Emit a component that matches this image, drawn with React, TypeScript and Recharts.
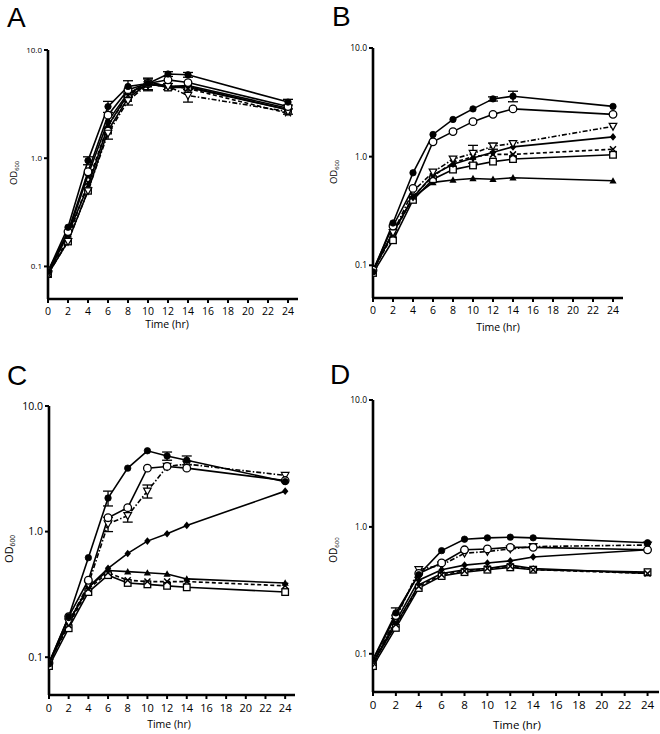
import React from 'react';
import { LineChart, Line, XAxis, YAxis, ErrorBar } from 'recharts';

// ---------- shared axes ----------
const hours = [0, 2, 4, 6, 8, 10, 12, 14, 24];
const xTicks = [0, 2, 4, 6, 8, 10, 12, 14, 16, 18, 20, 22, 24];
const yTicks = [0.1, 1, 10];
const yTickLabels = ['0.1', '1.0', '10.0'];
const panelLetters = ['A', 'B', 'C', 'D'];
const xAxisTitle = 'Time (hr)';

// ---------- Panel A ----------
const aFilledCircle = [0.09, 0.23, 0.95, 3.0, 4.6, 4.9, 6.0, 5.9, 3.3];
const aOpenCircle = [0.09, 0.21, 0.75, 2.5, 4.3, 4.9, 5.3, 5.0, 3.0];
const aFilledDiamond = [0.085, 0.2, 0.7, 2.2, 4.0, 4.8, 4.6, 4.6, 2.8];
const aOpenTriangle = [0.085, 0.17, 0.5, 1.7, 3.4, 4.8, 4.6, 3.8, 2.7];
const aCross = [0.085, 0.18, 0.6, 2.0, 3.8, 4.9, 4.7, 4.4, 2.6];
const aOpenSquare = [0.085, 0.17, 0.5, 1.8, 3.6, 4.9, 4.5, 4.5, 2.8];
const aFilledTriangle = [0.09, 0.2, 0.55, 2.0, 3.9, 5.1, 4.6, 4.7, 2.9];
const aFilledCircleErr = [0, 0, 0.08, 0.35, 0.6, 0.6, 0.3, 0.3, 0.2];
const aOpenTriangleErr = [0, 0, 0, 0.2, 0.3, 0.6, 0.3, 0.5, 0.15];

// ---------- Panel B ----------
const bFilledCircle = [0.087, 0.245, 0.71, 1.6, 2.2, 2.75, 3.4, 3.6, 2.9];
const bOpenCircle = [0.09, 0.23, 0.51, 1.37, 1.7, 2.1, 2.45, 2.75, 2.45];
const bFilledDiamond = [0.09, 0.2, 0.42, 0.68, 0.85, 0.97, 1.1, 1.23, 1.52];
const bOpenTriangle = [0.09, 0.2, 0.48, 0.72, 0.95, 1.07, 1.25, 1.32, 1.9];
const bCross = [0.09, 0.19, 0.43, 0.66, 0.88, 1.0, 1.05, 1.05, 1.17];
const bOpenSquare = [0.085, 0.17, 0.4, 0.62, 0.76, 0.83, 0.9, 0.95, 1.04];
const bFilledTriangle = [0.09, 0.2, 0.42, 0.58, 0.61, 0.63, 0.62, 0.64, 0.6];
const bFilledCircleErr = [0, 0, 0, 0, 0, 0, 0.15, 0.4, 0];
const bOpenTriangleErr = [0, 0, 0, 0, 0, 0.2, 0.08, 0, 0];

// ---------- Panel C ----------
const cFilledCircle = [0.09, 0.21, 0.62, 1.85, 3.2, 4.4, 4.0, 3.7, 2.5];
const cOpenCircle = [0.09, 0.21, 0.41, 1.29, 1.55, 3.2, 3.3, 3.2, 2.55];
const cFilledDiamond = [0.09, 0.19, 0.36, 0.51, 0.67, 0.84, 0.96, 1.12, 2.1];
const cOpenTriangle = [0.09, 0.19, 0.38, 1.15, 1.34, 2.1, 3.3, 3.45, 2.8];
const cCross = [0.09, 0.18, 0.35, 0.47, 0.41, 0.4, 0.4, 0.4, 0.37];
const cOpenSquare = [0.085, 0.17, 0.33, 0.45, 0.39, 0.38, 0.37, 0.36, 0.33];
const cFilledTriangle = [0.09, 0.19, 0.36, 0.49, 0.48, 0.47, 0.46, 0.42, 0.39];
const cFilledCircleErr = [0, 0, 0, 0.25, 0, 0, 0.3, 0.3, 0];
const cOpenTriangleErr = [0, 0, 0, 0.15, 0.15, 0.25, 0, 0, 0];

// ---------- Panel D ----------
const dFilledCircle = [0.09, 0.21, 0.42, 0.65, 0.8, 0.82, 0.83, 0.82, 0.75];
const dOpenCircle = [0.09, 0.2, 0.43, 0.52, 0.66, 0.67, 0.69, 0.69, 0.66];
const dFilledDiamond = [0.085, 0.18, 0.38, 0.46, 0.5, 0.52, 0.54, 0.58, 0.66];
const dOpenTriangle = [0.085, 0.19, 0.46, 0.5, 0.62, 0.64, 0.67, 0.7, 0.72];
const dCross = [0.085, 0.17, 0.34, 0.42, 0.45, 0.47, 0.49, 0.46, 0.43];
const dOpenSquare = [0.08, 0.16, 0.33, 0.41, 0.44, 0.46, 0.48, 0.46, 0.44];
const dFilledTriangle = [0.085, 0.17, 0.35, 0.43, 0.46, 0.47, 0.5, 0.47, 0.43];
const dFilledCircleErr = [0, 0.02, 0, 0, 0, 0, 0, 0, 0];
const dOpenTriangleErr = [0, 0, 0, 0, 0, 0, 0, 0, 0];

// ---------- series definitions ----------
type Shape =
  | 'filledCircle'
  | 'openCircle'
  | 'filledDiamond'
  | 'openTriangle'
  | 'cross'
  | 'openSquare'
  | 'filledTriangle';

const seriesDefs: { key: Shape; dash?: string }[] = [
  { key: 'filledTriangle' },
  { key: 'openSquare' },
  { key: 'cross', dash: '4 2.5' },
  { key: 'filledDiamond' },
  { key: 'openTriangle', dash: '5 2 1.5 2' },
  { key: 'openCircle' },
  { key: 'filledCircle' },
];

function makeMarker(shape: Shape) {
  return (props: any) => {
    const { cx, cy, index } = props;
    const k = `${shape}-${index}`;
    if (cx == null || cy == null || isNaN(cx) || isNaN(cy)) return <g key={k} />;
    switch (shape) {
      case 'filledCircle':
        return <circle key={k} cx={cx} cy={cy} r={3.2} fill="#000" stroke="#000" strokeWidth={0.8} />;
      case 'openCircle':
        return <circle key={k} cx={cx} cy={cy} r={3.8} fill="#fff" stroke="#000" strokeWidth={1.3} />;
      case 'filledDiamond':
        return (
          <polygon
            key={k}
            points={`${cx},${cy - 3.8} ${cx + 3.2},${cy} ${cx},${cy + 3.8} ${cx - 3.2},${cy}`}
            fill="#000"
          />
        );
      case 'openTriangle':
        return (
          <polygon
            key={k}
            points={`${cx - 3.8},${cy - 3} ${cx + 3.8},${cy - 3} ${cx},${cy + 3.8}`}
            fill="#fff"
            stroke="#000"
            strokeWidth={1.2}
          />
        );
      case 'cross':
        return (
          <g key={k} stroke="#000" strokeWidth={1.5}>
            <line x1={cx - 3} y1={cy - 3} x2={cx + 3} y2={cy + 3} />
            <line x1={cx - 3} y1={cy + 3} x2={cx + 3} y2={cy - 3} />
          </g>
        );
      case 'openSquare':
        return (
          <rect key={k} x={cx - 3.3} y={cy - 3.3} width={6.6} height={6.6} fill="#fff" stroke="#000" strokeWidth={1.3} />
        );
      case 'filledTriangle':
      default:
        return (
          <polygon
            key={k}
            points={`${cx},${cy - 3.6} ${cx + 3.6},${cy + 2.8} ${cx - 3.6},${cy + 2.8}`}
            fill="#000"
          />
        );
    }
  };
}

type PanelData = Record<Shape, number[]> & { errCircle: number[]; errTriangle: number[] };

const panels: {
  data: PanelData;
  plotX: number;
  plotY: number;
  plotW: number;
  plotH: number;
  yFont: number;
  xFont: number;
}[] = [
  {
    data: {
      filledCircle: aFilledCircle,
      openCircle: aOpenCircle,
      filledDiamond: aFilledDiamond,
      openTriangle: aOpenTriangle,
      cross: aCross,
      openSquare: aOpenSquare,
      filledTriangle: aFilledTriangle,
      errCircle: aFilledCircleErr,
      errTriangle: aOpenTriangleErr,
    },
    plotX: 48, plotY: 50, plotW: 250, plotH: 249, yFont: 8, xFont: 10.5,
  },
  {
    data: {
      filledCircle: bFilledCircle,
      openCircle: bOpenCircle,
      filledDiamond: bFilledDiamond,
      openTriangle: bOpenTriangle,
      cross: bCross,
      openSquare: bOpenSquare,
      filledTriangle: bFilledTriangle,
      errCircle: bFilledCircleErr,
      errTriangle: bOpenTriangleErr,
    },
    plotX: 373, plotY: 48, plotW: 250, plotH: 250, yFont: 8.5, xFont: 10.5,
  },
  {
    data: {
      filledCircle: cFilledCircle,
      openCircle: cOpenCircle,
      filledDiamond: cFilledDiamond,
      openTriangle: cOpenTriangle,
      cross: cCross,
      openSquare: cOpenSquare,
      filledTriangle: cFilledTriangle,
      errCircle: cFilledCircleErr,
      errTriangle: cOpenTriangleErr,
    },
    plotX: 49, plotY: 406, plotW: 246, plotH: 289, yFont: 10.5, xFont: 11,
  },
  {
    data: {
      filledCircle: dFilledCircle,
      openCircle: dOpenCircle,
      filledDiamond: dFilledDiamond,
      openTriangle: dOpenTriangle,
      cross: dCross,
      openSquare: dOpenSquare,
      filledTriangle: dFilledTriangle,
      errCircle: dFilledCircleErr,
      errTriangle: dOpenTriangleErr,
    },
    plotX: 373, plotY: 400, plotW: 286, plotH: 292, yFont: 8.5, xFont: 11.5,
  },
];

const FONT = '"Open Sans", "DejaVu Sans", sans-serif';

function Panel({ p }: { p: (typeof panels)[number] }) {
  const yW = 45;
  const top = 10;
  const xH = 30;
  const width = p.plotW + yW;
  const height = p.plotH + top + xH;
  const rows = hours.map((h, i) => {
    const r: any = { t: h };
    seriesDefs.forEach((s) => {
      r[s.key] = p.data[s.key][i];
    });
    r.filledCircleErr = p.data.errCircle[i];
    r.openTriangleErr = p.data.errTriangle[i];
    return r;
  });
  return (
    <div style={{ position: 'absolute', left: p.plotX - yW, top: p.plotY - top, width, height }}>
      <LineChart width={width} height={height} data={rows} margin={{ top, right: 0, bottom: 0, left: 0 }}>
        <XAxis
          dataKey="t"
          type="number"
          domain={[0, 25]}
          ticks={xTicks}
          interval={0}
          height={xH}
          tickSize={4}
          tickMargin={5}
          axisLine={{ stroke: '#000', strokeWidth: 2.6 }}
          tickLine={{ stroke: '#000', strokeWidth: 2 }}
          tick={{ fill: '#000', fontSize: p.xFont, fontFamily: FONT }}
          allowDataOverflow
        />
        <YAxis
          type="number"
          scale="log"
          domain={[0.05, 10]}
          ticks={yTicks}
          interval={0}
          width={yW}
          tickSize={4}
          tickMargin={2}
          axisLine={{ stroke: '#000', strokeWidth: 2.6 }}
          tickLine={{ stroke: '#000', strokeWidth: 2 }}
          tick={{ fill: '#000', fontSize: p.yFont, fontFamily: FONT }}
          tickFormatter={(v: number) => yTickLabels[yTicks.indexOf(v)] ?? String(v)}
          allowDataOverflow
        />
        {seriesDefs.map((s) => (
          <Line
            key={s.key}
            dataKey={s.key}
            type="linear"
            stroke="#000"
            strokeWidth={1.6}
            strokeDasharray={s.dash}
            dot={makeMarker(s.key)}
            activeDot={false}
            isAnimationActive={false}
            legendType="none"
          >
            {s.key === 'filledCircle' && (
              <ErrorBar dataKey="filledCircleErr" width={5} stroke="#000" strokeWidth={1.3} direction="y" />
            )}
            {s.key === 'openTriangle' && (
              <ErrorBar dataKey="openTriangleErr" width={5} stroke="#000" strokeWidth={1.3} direction="y" />
            )}
          </Line>
        ))}
      </LineChart>
    </div>
  );
}

// overlay text positions
const letterPos = [
  { x: 7, y: 27 },
  { x: 332, y: 26 },
  { x: 7, y: 385 },
  { x: 330, y: 384 },
];
const odPos = [
  { x: 17, y: 173, size: 9.5 },
  { x: 337, y: 172, size: 9.5 },
  { x: 13, y: 549, size: 11 },
  { x: 337, y: 550, size: 10 },
];
const timePos = [
  { x: 167, y: 328, size: 10.5 },
  { x: 498, y: 331, size: 10.5 },
  { x: 169, y: 728, size: 10.5 },
  { x: 517, y: 729, size: 11.5 },
];

export default function App() {
  return (
    <div style={{ position: 'absolute', left: 0, top: 0, width: 660, height: 734, background: '#fff', overflow: 'hidden' }}>
      {panels.map((p, i) => (
        <Panel key={i} p={p} />
      ))}
      <svg width={660} height={734} style={{ position: 'absolute', left: 0, top: 0, pointerEvents: 'none' }}>
        {panelLetters.map((l, i) => (
          <text key={l} x={letterPos[i].x} y={letterPos[i].y} fontSize={28} fontFamily='"Liberation Sans", Arial, sans-serif' fill="#000">
            {l}
          </text>
        ))}
        {odPos.map((o, i) => (
          <text
            key={`od${i}`}
            x={o.x}
            y={o.y}
            transform={`rotate(-90 ${o.x} ${o.y})`}
            textAnchor="middle"
            fontSize={o.size}
            fontFamily={FONT}
            fill="#000"
          >
            OD<tspan fontSize={o.size * 0.6} dy={2}>600</tspan>
          </text>
        ))}
        {timePos.map((t, i) => (
          <text key={`t${i}`} x={t.x} y={t.y} textAnchor="middle" fontSize={t.size} fontFamily={FONT} fill="#000">
            {xAxisTitle}
          </text>
        ))}
      </svg>
    </div>
  );
}
